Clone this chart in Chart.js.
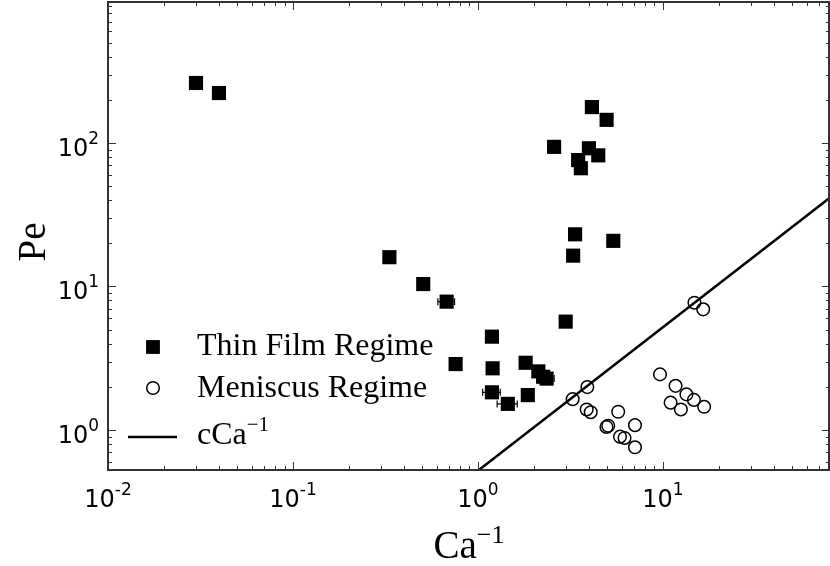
<!DOCTYPE html>
<html>
<head>
<meta charset="utf-8">
<script src="https://cdn.jsdelivr.net/npm/chart.js@4"></script>
<style>
  html, body { margin: 0; padding: 0; background: #fff; }
  #wrap { width: 830px; height: 566px; }
</style>
</head>
<body>
<div id="wrap"><canvas id="peChart" width="830" height="566"></canvas></div>
<script>
// Thin film regime (filled squares)
const thinFilmCa = [0.0299, 0.0398, 4.13, 4.96, 2.58, 3.98, 4.47, 3.48, 3.60, 3.35, 3.27, 5.39, 0.332,
  0.506, 0.677, 1.19, 0.757, 1.20, 1.81, 2.12, 2.25, 2.35, 1.19, 1.86, 1.45, 2.98];
const thinFilmPe = [262, 223, 178, 145, 94, 91.9, 82, 76, 66.7, 23.1, 16.4, 20.8, 16.0,
  10.4, 7.84, 4.47, 2.88, 2.69, 2.94, 2.56, 2.35, 2.28, 1.83, 1.75, 1.52, 5.69];
// horizontal error (± in Ca), 0 where none is visible
const thinFilmCaErr = [0, 0, 0, 0, 0, 0, 0, 0, 0, 0, 0, 0, 0,
  0, 0.07, 0, 0, 0, 0, 0, 0, 0.23, 0.13, 0, 0.18, 0];

// Meniscus regime (open circles)
const meniscusCa = [14.8, 16.5, 3.25, 3.90, 3.87, 4.07, 5.73, 5.06, 4.95, 7.06, 5.86, 6.20, 7.06,
  9.64, 11.7, 13.4, 14.7, 11.0, 12.5, 16.7];
const meniscusPe = [7.71, 6.93, 1.64, 1.99, 1.39, 1.33, 1.34, 1.07, 1.05, 1.08, 0.898, 0.88, 0.757,
  2.44, 2.03, 1.77, 1.62, 1.55, 1.39, 1.45];

// cCa^-1 guide line end points
const lineCa = [0.5, 200];
const linePe = [0.26, 104];

const xMajorTicks = [0.01, 0.1, 1, 10];
const xTickExps = ["-2", "-1", "0", "1"];
const yMajorTicks = [1, 10, 100];
const yTickExps = ["0", "1", "2"];

const legendLabels = ["Thin Film Regime", "Meniscus Regime", "cCa"];

const toPoints = (xs, ys) => xs.map((x, i) => ({ x: x, y: ys[i] }));

const AXIS_COLOR = "#333";

function drawPower(ctx, base, exp, x, y, align, baseFont, supFont, supRaise) {
  ctx.font = baseFont;
  const wBase = ctx.measureText(base).width;
  ctx.font = supFont;
  const wExp = ctx.measureText(exp).width;
  const total = wBase + wExp;
  let left = x;
  if (align === "center") left = x - total / 2;
  if (align === "right") left = x - total;
  ctx.textAlign = "left";
  ctx.textBaseline = "alphabetic";
  ctx.font = baseFont;
  ctx.fillText(base, left, y);
  ctx.font = supFont;
  ctx.fillText(exp, left + wBase, y - supRaise);
}

function minorValues(min, max) {
  const out = [];
  for (let e = -3; e <= 3; e++) {
    for (let k = 2; k <= 9; k++) {
      const v = k * Math.pow(10, e);
      if (v > min && v < max) out.push(v);
    }
  }
  return out;
}

const decorPlugin = {
  id: "decor",
  beforeDatasetsDraw(chart) {
    const ctx = chart.ctx;
    const xs = chart.scales.x;
    const ys = chart.scales.y;
    // error bars, under the markers
    ctx.save();
    ctx.strokeStyle = "#000";
    ctx.lineWidth = 1.2;
    thinFilmCaErr.forEach((err, i) => {
      if (!err) return;
      const py = ys.getPixelForValue(thinFilmPe[i]);
      const x1 = xs.getPixelForValue(thinFilmCa[i] - err);
      const x2 = xs.getPixelForValue(thinFilmCa[i] + err);
      ctx.beginPath();
      ctx.moveTo(x1, py); ctx.lineTo(x2, py);
      ctx.moveTo(x1, py - 3.5); ctx.lineTo(x1, py + 3.5);
      ctx.moveTo(x2, py - 3.5); ctx.lineTo(x2, py + 3.5);
      ctx.stroke();
    });
    ctx.restore();
  },
  afterDatasetsDraw(chart) {
    const ctx = chart.ctx;
    const area = chart.chartArea;
    const xs = chart.scales.x;
    const ys = chart.scales.y;

    ctx.save();
    // frame
    ctx.strokeStyle = AXIS_COLOR;
    ctx.lineWidth = 2;
    ctx.strokeRect(area.left, area.top, area.right - area.left - 1, area.bottom - area.top);

    // inward ticks
    ctx.lineWidth = 1;
    ctx.beginPath();
    xMajorTicks.forEach((v) => {
      const px = Math.round(xs.getPixelForValue(v)) + 0.5;
      ctx.moveTo(px, area.bottom); ctx.lineTo(px, area.bottom - 8);
      ctx.moveTo(px, area.top); ctx.lineTo(px, area.top + 8);
    });
    minorValues(xs.min, xs.max).forEach((v) => {
      const px = Math.round(xs.getPixelForValue(v)) + 0.5;
      ctx.moveTo(px, area.bottom); ctx.lineTo(px, area.bottom - 4);
      ctx.moveTo(px, area.top); ctx.lineTo(px, area.top + 4);
    });
    yMajorTicks.forEach((v) => {
      const py = Math.round(ys.getPixelForValue(v)) + 0.5;
      ctx.moveTo(area.left, py); ctx.lineTo(area.left + 8, py);
      ctx.moveTo(area.right, py); ctx.lineTo(area.right - 8, py);
    });
    minorValues(ys.min, ys.max).forEach((v) => {
      const py = Math.round(ys.getPixelForValue(v)) + 0.5;
      ctx.moveTo(area.left, py); ctx.lineTo(area.left + 4, py);
      ctx.moveTo(area.right, py); ctx.lineTo(area.right - 4, py);
    });
    ctx.stroke();

    // tick labels
    ctx.fillStyle = "#000";
    const tickFont = "24px 'DejaVu Sans'";
    const supFont = "17px 'DejaVu Sans'";
    xMajorTicks.forEach((v, i) => {
      drawPower(ctx, "10", xTickExps[i], xs.getPixelForValue(v), area.bottom + 37, "center", tickFont, supFont, 12);
    });
    yMajorTicks.forEach((v, i) => {
      drawPower(ctx, "10", yTickExps[i], area.left - 9, ys.getPixelForValue(v) + 13, "right", tickFont, supFont, 12);
    });

    // axis titles
    drawPower(ctx, "Ca", "\u22121", (area.left + area.right) / 2, 558, "center",
      "39px 'Liberation Serif'", "26px 'Liberation Serif'", 15);
    ctx.save();
    ctx.translate(45, 242);
    ctx.rotate(-Math.PI / 2);
    ctx.font = "39px 'Liberation Serif'";
    ctx.textAlign = "center";
    ctx.textBaseline = "alphabetic";
    ctx.fillText("Pe", 0, 0);
    ctx.restore();

    // legend
    const legendFont = "32px 'Liberation Serif'";
    Chart.helpers.drawPoint(ctx, { pointStyle: "rect", radius: 9.5, borderWidth: 0 }, 153, 347);
    ctx.fillStyle = "#000";
    ctx.fill();
    ctx.strokeStyle = "#000";
    ctx.lineWidth = 1.5;
    ctx.fillStyle = "rgba(0,0,0,0)";
    Chart.helpers.drawPoint(ctx, { pointStyle: "circle", radius: 6.3, borderWidth: 1.5 }, 153, 388);
    ctx.lineWidth = 2.5;
    ctx.beginPath();
    ctx.moveTo(128, 437); ctx.lineTo(177, 437);
    ctx.stroke();

    ctx.fillStyle = "#000";
    ctx.font = legendFont;
    ctx.textAlign = "left";
    ctx.fillText(legendLabels[0], 197, 355);
    ctx.fillText(legendLabels[1], 197, 397);
    drawPower(ctx, legendLabels[2], "\u22121", 197, 444, "left", legendFont, "21px 'Liberation Serif'", 13);
    ctx.restore();
  }
};

new Chart(document.getElementById("peChart"), {
  type: "scatter",
  data: {
    datasets: [
      {
        label: "Thin Film Regime",
        data: toPoints(thinFilmCa, thinFilmPe),
        pointStyle: "rect",
        pointRadius: 10,
        pointBorderWidth: 0,
        backgroundColor: "#000",
        borderColor: "#000",
      },
      {
        label: "Meniscus Regime",
        data: toPoints(meniscusCa, meniscusPe),
        pointStyle: "circle",
        pointRadius: 6.3,
        pointBorderWidth: 1.5,
        backgroundColor: "rgba(0,0,0,0)",
        borderColor: "#000",
      },
      {
        type: "line",
        label: "cCa-1",
        data: toPoints(lineCa, linePe),
        borderColor: "#000",
        borderWidth: 2.5,
        pointRadius: 0,
        fill: false,
      },
    ],
  },
  options: {
    responsive: false,
    animation: false,
    layout: { autoPadding: false, padding: { top: 2, right: 0, left: 0, bottom: 0 } },
    plugins: {
      legend: { display: false },
      tooltip: { enabled: false },
    },
    scales: {
      x: {
        type: "logarithmic",
        min: 0.01,
        max: 80,
        ticks: { display: false },
        grid: { display: false },
        border: { display: false },
        afterFit: (scale) => { scale.height = 96; },
      },
      y: {
        type: "logarithmic",
        min: 0.526,
        max: 961,
        ticks: { display: false },
        grid: { display: false },
        border: { display: false },
        afterFit: (scale) => { scale.width = 108; },
      },
    },
  },
  plugins: [decorPlugin],
});
</script>
</body>
</html>
